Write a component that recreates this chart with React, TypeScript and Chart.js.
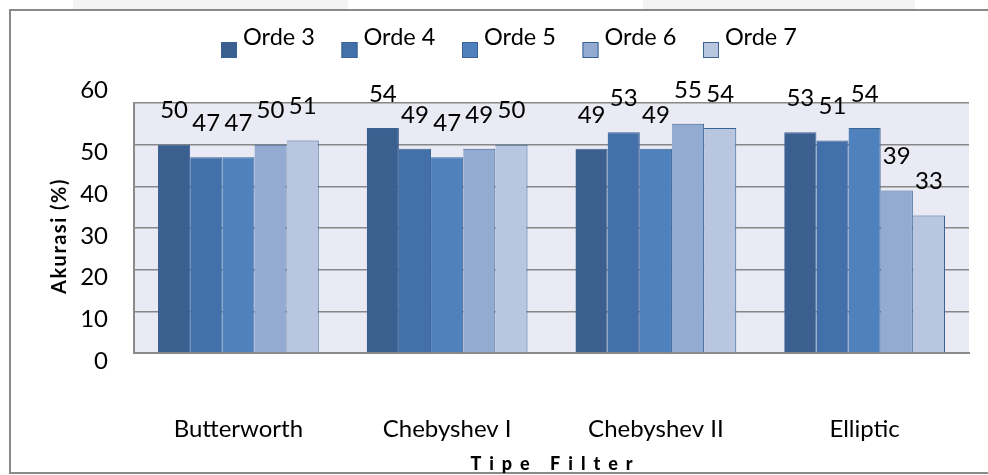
import React, { useEffect, useRef } from "react";
import { Chart, registerables } from "chart.js";

Chart.register(...registerables);

const categories = ["Butterworth", "Chebyshev I", "Chebyshev II", "Elliptic"];
const seriesNames = ["Orde 3", "Orde 4", "Orde 5", "Orde 6", "Orde 7"];
const orde3 = [50, 54, 49, 53];
const orde4 = [47, 49, 53, 51];
const orde5 = [47, 47, 49, 54];
const orde6 = [50, 49, 55, 39];
const orde7 = [51, 50, 54, 33];
const seriesValues = [orde3, orde4, orde5, orde6, orde7];
const seriesColors = ["#3B5F8F", "#4370A8", "#4F81BD", "#93ABD1", "#B9C6DF"];
const yTicks = { min: 0, max: 60, step: 10 };
const yTitle = "Akurasi (%)";
const xTitle = "Tipe Filter";

const FONT = "Lato, 'Open Sans', sans-serif";

const decorPlugin = {
  id: "decor",
  beforeDraw(chart: any) {
    const { ctx, chartArea, width, height } = chart;
    ctx.save();
    ctx.fillStyle = "#ffffff";
    ctx.fillRect(0, 0, width, height);
    ctx.fillStyle = "#F3F3F3";
    ctx.fillRect(73, 0, 275, 10);
    ctx.fillRect(643, 0, 272, 10);
    ctx.strokeStyle = "#8A8A8A";
    ctx.lineWidth = 2;
    ctx.strokeRect(10, 10, width + 20, 463);
    ctx.fillStyle = "#E9EAF4";
    ctx.fillRect(chartArea.left, chartArea.top, chartArea.right - chartArea.left, chartArea.bottom - chartArea.top);
    ctx.restore();
  },
  afterDraw(chart: any) {
    const { ctx, chartArea } = chart;
    ctx.save();
    // data labels
    ctx.font = `24px ${FONT}`;
    ctx.fillStyle = "#000";
    ctx.textAlign = "center";
    ctx.textBaseline = "middle";
    chart.data.datasets.forEach((ds: any, i: number) => {
      const meta = chart.getDatasetMeta(i);
      meta.data.forEach((bar: any, j: number) => {
        ctx.fillText(String(ds.data[j]), bar.x, bar.y - 34);
      });
    });
    // top y label
    const yScale = chart.scales.y;
    ctx.textAlign = "right";
    ctx.fillText(String(yTicks.max), chartArea.left - 26, yScale.getPixelForValue(yTicks.max) - 13);
    // legend
    const startX = 221;
    const stepX = 120.5;
    chart.data.datasets.forEach((ds: any, i: number) => {
      const x = startX + i * stepX;
      ctx.fillStyle = ds.backgroundColor;
      ctx.fillRect(x, 42, 16, 16);
      ctx.strokeStyle = "#3A6395";
      ctx.lineWidth = 1;
      ctx.strokeRect(x + 0.5, 42.5, 15, 15);
      ctx.fillStyle = "#000";
      ctx.textAlign = "left";
      ctx.textBaseline = "alphabetic";
      ctx.font = `23.5px ${FONT}`;
      ctx.fillText(ds.label, x + 22, 45);
    });
    // axis titles
    ctx.textAlign = "center";
    ctx.textBaseline = "middle";
    ctx.save();
    ctx.font = `bold 20px ${FONT}`;
    (ctx as any).letterSpacing = "1.5px";
    ctx.translate(60, (chartArea.top + chartArea.bottom) / 2 + 8);
    ctx.rotate(-Math.PI / 2);
    ctx.fillText(yTitle, 0, 0);
    ctx.restore();
    ctx.font = `900 18px ${FONT}`;
    (ctx as any).letterSpacing = "8px";
    ctx.fillText(xTitle, (chartArea.left + chartArea.right) / 2 + 4, 464);
    ctx.restore();
  },
};

export default function App() {
  const ref = useRef<HTMLCanvasElement>(null);
  useEffect(() => {
    if (!ref.current) return;
    const chart = new Chart(ref.current, {
      type: "bar",
      data: {
        labels: categories,
        datasets: seriesValues.map((vals, i) => ({
          label: seriesNames[i],
          data: vals,
          backgroundColor: seriesColors[i],
          borderColor: "#3A6395",
          borderWidth: { left: 0, right: 1, top: 1, bottom: 0 },
          categoryPercentage: 0.77,
          barPercentage: 1,
        })),
      },
      options: {
        animation: false,
        responsive: false,
        layout: { padding: { top: 103, right: 19, left: 0, bottom: 0 } },
        plugins: { legend: { display: false }, tooltip: { enabled: false }, title: { display: false } },
        scales: {
          x: {
            grid: { display: false },
            border: { display: true, color: "#8A8A8A", width: 2 },
            ticks: { font: { family: FONT, size: 24 }, color: "#000", padding: 54 },
            afterFit: (s: any) => { s.height = 122; },
          },
          y: {
            min: yTicks.min,
            max: yTicks.max,
            ticks: {
              stepSize: yTicks.step,
              font: { family: FONT, size: 24 },
              color: "#000",
              padding: 26,
              labelOffset: 8,
              callback: (v: any) => (v === yTicks.max ? "" : String(v)),
            },
            grid: { color: "#878787", lineWidth: 1.5, drawTicks: false },
            border: { display: true, color: "#8A8A8A", width: 2 },
            afterFit: (s: any) => { s.width = 134; },
          },
        },
      },
      plugins: [decorPlugin],
    });
    return () => chart.destroy();
  }, []);
  return (
    <div style={{ position: "fixed", left: 0, top: 0, width: 988, height: 475 }}>
      <canvas ref={ref} width={988} height={475} style={{ display: "block" }} />
    </div>
  );
}
